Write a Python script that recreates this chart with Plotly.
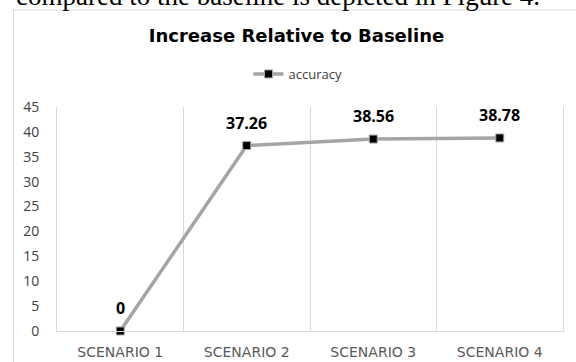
import plotly.graph_objects as go

# ---- data ----
categories = ["SCENARIO 1", "SCENARIO 2", "SCENARIO 3", "SCENARIO 4"]
accuracy = [0, 37.26, 38.56, 38.78]
label_text = ["0", "37.26", "38.56", "38.78"]
y_ticks = [0, 5, 10, 15, 20, 25, 30, 35, 40, 45]
series_name = "accuracy"
chart_title = "Increase Relative to Baseline"
caption_text = "compared to the baseline is depicted in Figure 4."

# ---- layout geometry (px) ----
W, H = 576, 362
L, R, T, B = 57, 13, 107, 31
PW, PH = W - L - R, H - T - B


def px_x(px):
    return (px - L) / PW


def px_y(py):
    return (H - B - py) / PH


xs = list(range(len(categories)))
boundaries = [i - 0.5 for i in range(len(categories) + 1)]

fig = go.Figure()
fig.add_trace(go.Scatter(
    x=xs, y=accuracy, name=series_name, mode="lines+markers",
    line=dict(color="#a5a5a5", width=3.5),
    marker=dict(symbol="square", size=8, color="#000000",
                line=dict(color="#a5a5a5", width=1)),
    cliponaxis=False, showlegend=True,
))

annotations = []
for xi, yi, t in zip(xs, accuracy, label_text):
    annotations.append(dict(
        x=xi, y=yi, xref="x", yref="y", text=t, showarrow=False,
        yshift=23, font=dict(family="Open Sans", size=16, color="#000000", weight="bold"),
    ))

annotations.append(dict(
    x=px_x(14), y=px_y(-4), xref="paper", yref="paper", text=caption_text,
    showarrow=False, xanchor="left", yanchor="middle",
    font=dict(family="Liberation Serif", size=27, color="#000000"),
))

fig.update_layout(
    width=W, height=H,
    margin=dict(l=L, r=R, t=T, b=B, pad=0, autoexpand=False),
    paper_bgcolor="#ffffff", plot_bgcolor="#ffffff",
    title=dict(text=chart_title, xref="container", yref="container",
               x=296.5 / W, y=1 - 36 / H, xanchor="center", yanchor="middle",
               font=dict(family="DejaVu Sans", size=18, color="#000000", weight="bold")),
    showlegend=True,
    legend=dict(orientation="h", x=px_x(298), y=px_y(74), xanchor="center", yanchor="middle",
                font=dict(family="Open Sans", size=13, color="#404040"),
                bgcolor="rgba(0,0,0,0)", itemwidth=30),
    xaxis=dict(range=[-0.5, len(categories) - 0.5], tickmode="array", tickvals=xs,
               ticktext=categories, showgrid=False, zeroline=False,
               showline=True, linecolor="#d9d9d9", linewidth=1,
               ticks="", ticklabelstandoff=8, automargin=False,
               tickfont=dict(family="DejaVu Sans", size=14, color="#595959"),
               minor=dict(tickmode="array", tickvals=boundaries, showgrid=True,
                          gridcolor="#d9d9d9", gridwidth=1, ticks=""),
               fixedrange=True),
    yaxis=dict(range=[0, 45], tickmode="array", tickvals=y_ticks, showgrid=False,
               zeroline=False, showline=True, mirror=True, linecolor="#d9d9d9",
               linewidth=1, ticks="", ticklabelstandoff=14, automargin=False,
               tickfont=dict(family="Open Sans", size=14, color="#404040"),
               fixedrange=True),
    annotations=annotations,
    shapes=[dict(type="rect", xref="paper", yref="paper",
                 x0=px_x(13.5), x1=px_x(620), y0=px_y(420), y1=px_y(10),
                 line=dict(color="#d9d9d9", width=1), fillcolor="rgba(0,0,0,0)",
                 layer="below")],
)

fig.write_html("out.html", config={"displayModeBar": False})
